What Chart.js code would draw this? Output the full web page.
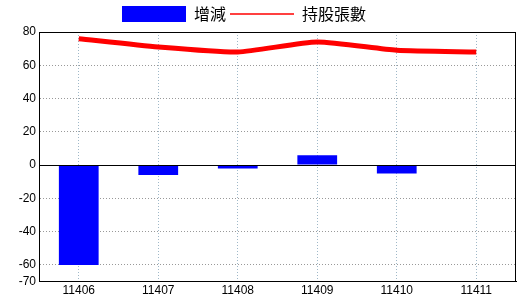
<!DOCTYPE html>
<html>
<head>
<meta charset="utf-8">
<script src="https://cdn.jsdelivr.net/npm/chart.js@4/dist/chart.umd.min.js"></script>
<style>
  html, body { margin: 0; padding: 0; background: #fff; }
  #wrap { width: 520px; height: 300px; }
</style>
</head>
<body>
<div id="wrap"><canvas id="myChart"></canvas></div>
<script>
// data
var months = ['11406', '11407', '11408', '11409', '11410', '11411'];
var change = [-60, -6, -2, 6, -5, 0];        // 增減
var shares = [76, 71, 68, 74, 69, 68];       // 持股張數
var yTicks = [80, 60, 40, 20, 0, -20, -40, -60, -70];

// frame round the plot area + solid zero line
var framePlugin = {
  id: 'frame',
  afterLayout(chart) {
    // legend sits a bit left of centre in the original
    var lg = chart.legend;
    lg.left -= 14;
    lg.right -= 14;
  },
  afterDraw(chart) {
    var a = chart.chartArea, ctx = chart.ctx;
    var y0 = chart.scales.y.getPixelForValue(0);
    ctx.save();
    ctx.strokeStyle = '#000';
    ctx.lineWidth = 1;
    ctx.beginPath();
    ctx.moveTo(a.left, Math.round(y0) + 0.5);
    ctx.lineTo(a.right, Math.round(y0) + 0.5);
    ctx.stroke();
    ctx.strokeRect(Math.round(a.left) + 0.5, Math.round(a.top) + 0.5,
      Math.round(a.right - a.left) - 1, Math.round(a.bottom - a.top) - 1);
    ctx.restore();
  }
};

new Chart('myChart', {
  data: {
    labels: months,
    datasets: [{
      type: 'line',
      label: '持股張數',
      data: shares,
      borderColor: '#ff0000',
      backgroundColor: '#ff0000',
      borderWidth: 5,
      pointRadius: 0,
      tension: 0.2,
      order: 0
    }, {
      type: 'bar',
      label: '增減',
      data: change,
      backgroundColor: '#0000ff',
      barPercentage: 1,
      categoryPercentage: 0.5,
      order: 1
    }]
  },
  options: {
    responsive: true,
    maintainAspectRatio: false,
    animation: false,
    layout: { padding: { left: 0, right: 4, top: 2, bottom: 0 } },
    plugins: {
      tooltip: { enabled: false },
      legend: {
        position: 'top',
        reverse: true,
        labels: {
          usePointStyle: true,
          pointStyleWidth: 64,
          boxHeight: 16,
          padding: 4,
          color: '#000',
          font: { family: '"Noto Sans CJK TC", sans-serif', size: 16 },
          generateLabels(chart) {
            var items = Chart.defaults.plugins.legend.labels.generateLabels(chart);
            items.forEach(function (it) {
              if (it.datasetIndex === 1) {
                it.pointStyle = 'rect';
                it.fillStyle = '#0000ff';
                it.strokeStyle = '#0000ff';
                it.lineWidth = 0;
              } else {
                it.pointStyle = 'line';
                it.strokeStyle = '#ff0000';
                it.lineWidth = 1.5;
              }
            });
            return items;
          }
        }
      }
    },
    scales: {
      x: {
        offset: true,
        grid: { offset: false, color: '#9fb8c8', drawTicks: false },
        border: { display: true, color: '#000', dash: [1, 2] },
        ticks: { color: '#000', padding: 2, font: { family: '"Liberation Sans", sans-serif', size: 12 } }
      },
      y: {
        min: -70,
        max: 80,
        afterBuildTicks(scale) {
          scale.ticks = yTicks.map(function (v) { return { value: v }; });
        },
        afterFit(scale) { scale.width = 39; },
        grid: { color: '#999999', drawTicks: false },
        border: { display: true, color: '#000', dash: [1, 2] },
        ticks: { color: '#000', padding: 3, font: { family: '"Liberation Sans", sans-serif', size: 12 } }
      }
    }
  },
  plugins: [framePlugin]
});
</script>
</body>
</html>
